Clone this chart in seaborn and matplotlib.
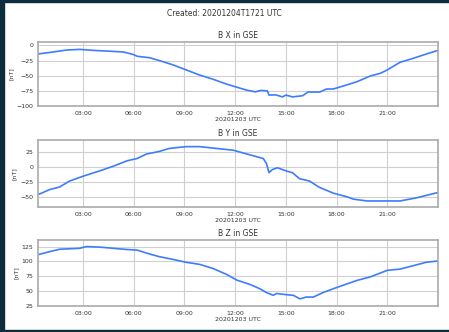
"""
plot.py
-------
Three stacked panels: B X / B Y / B Z in GSE for 20201203 (UTC).
Run: python plot.py
"""

import numpy as np
import pandas as pd
import matplotlib
matplotlib.use("Agg")
import matplotlib.pyplot as plt
import matplotlib.dates as mdates
from matplotlib.patches import Rectangle
import seaborn as sns

# -------------------------------------------------------------------
# Data (hours since 2020-12-03 00:00 UTC, values in nT)
# -------------------------------------------------------------------
bx_hours = [0.3, 1.03, 1.62, 2.0, 2.8, 3.6, 4.4, 5.4, 5.96, 6.2, 6.95, 7.5, 8.3, 9.1,
            9.9, 10.7, 11.5, 12.1, 12.7, 13.2, 13.5, 13.9, 14.0, 14.4, 14.8, 15.0,
            15.4, 16.0, 16.3, 17.0, 17.4, 17.8, 18.4, 19.2, 20.0, 20.6, 21.0, 21.75,
            22.5, 23.3, 24.0]
bx_values = [-14.4, -11.7, -9.4, -7.8, -6.7, -8.3, -9.4, -11, -15, -18, -20.5, -25, -32,
             -40.5, -49, -56, -64, -69, -74, -76.7, -74.4, -75, -82, -81.7, -85, -82,
             -85, -83, -77, -77, -72, -72, -67, -60, -50.5, -46, -40.5, -28, -21.7,
             -14.4, -8.3]

by_hours = [0.3, 1.03, 1.6, 2.2, 3.0, 4.0, 4.8, 5.6, 6.2, 6.75, 7.5, 8.1, 9.1, 9.9, 10.9,
            11.9, 12.7, 13.66, 13.85, 14.0, 14.2, 14.5, 15.0, 15.4, 15.8, 16.4, 16.95,
            17.8, 18.6, 19.0, 19.8, 21.0, 21.75, 22.7, 24.0]
by_values = [-46, -37, -33, -23, -15, -6, 1.7, 10.5, 14.4, 21.7, 26, 31, 34, 34, 31, 28,
             21.7, 14.4, 6, -9, -4, -1, -6, -9.4, -19, -23, -33, -43, -49, -53, -56, -56,
             -56, -51, -42]

bz_hours = [0.3, 1.03, 1.62, 2.8, 3.2, 4.0, 4.8, 5.6, 6.2, 6.75, 7.5, 8.3, 9.1, 9.9, 10.7,
            11.5, 12.1, 12.9, 13.46, 13.85, 14.25, 14.45, 15.05, 15.44, 15.83, 16.2,
            16.62, 17.2, 17.8, 18.4, 19.2, 20.0, 21.0, 21.75, 22.7, 23.3, 24.0]
bz_values = [111, 116.5, 120.5, 122, 125, 124, 122, 120, 119, 114, 108, 103.5, 98.5, 95,
             88, 78, 68.5, 61, 54, 47.6, 43, 46, 44, 43, 37, 40, 40, 47.6, 54, 60, 68, 74,
             85, 87, 94, 98.5, 100.7]

panel_titles = ["B X in GSE", "B Y in GSE", "B Z in GSE"]
panel_ylims  = [(-100, 5.5), (-66, 45), (25, 136)]
panel_yticks = [[-100, -75, -50, -25, 0], [-50, -25, 0, 25], [25, 50, 75, 100, 125]]

DAY = pd.Timestamp("2020-12-03")
LINE_COLOR = "#3d7cff"
TEXT_COLOR = "#333333"


def to_frame(hours, values):
    times = DAY + pd.to_timedelta(np.asarray(hours), unit="h")
    return pd.DataFrame({"time": times, "value": values})


# -------------------------------------------------------------------
# Figure
# -------------------------------------------------------------------
sns.set_style("whitegrid", {"grid.color": "#d0d0d0", "axes.edgecolor": "#aaaaaa"})
plt.rcParams["font.family"] = ["DejaVu Sans"]

fig = plt.figure(figsize=(4.49, 3.32), dpi=100, facecolor="white")

# dark screenshot border
border = "#0d2c3e"
fig.patches.append(Rectangle((0, 0), 4 / 449, 1, transform=fig.transFigure, color=border, zorder=0))
fig.patches.append(Rectangle((0, 1 - 2 / 332), 1, 2 / 332, transform=fig.transFigure, color=border, zorder=0))
fig.patches.append(Rectangle((0, 0), 1, 2 / 332, transform=fig.transFigure, color=border, zorder=0))

fig.text(0.5, 1 - 14 / 332, "Created: 20201204T1721 UTC", ha="center", va="center",
         fontsize=5.5, color=TEXT_COLOR)

positions = [
    [38 / 449, 1 - 106 / 332, 400 / 449, 64 / 332],
    [38 / 449, 1 - 207 / 332, 400 / 449, 67 / 332],
    [38 / 449, 1 - 306 / 332, 400 / 449, 66 / 332],
]
frames = [to_frame(bx_hours, bx_values), to_frame(by_hours, by_values), to_frame(bz_hours, bz_values)]

for pos, df, title, ylim, yticks in zip(positions, frames, panel_titles, panel_ylims, panel_yticks):
    ax = fig.add_axes(pos)
    sns.lineplot(data=df, x="time", y="value", ax=ax, color=LINE_COLOR, linewidth=1.2)
    ax.set_xlim(DAY + pd.Timedelta(minutes=20), DAY + pd.Timedelta(hours=24))
    ax.set_ylim(*ylim)
    ax.set_yticks(yticks)
    ax.xaxis.set_major_locator(mdates.HourLocator(byhour=range(3, 24, 3)))
    ax.xaxis.set_major_formatter(mdates.DateFormatter("%H:%M"))
    ax.set_title(title, fontsize=5.5, color=TEXT_COLOR, pad=3)
    ax.set_xlabel("20201203 UTC", fontsize=4.5, color=TEXT_COLOR, labelpad=1)
    ax.set_ylabel("[nT]", fontsize=4.5, color=TEXT_COLOR, labelpad=2)
    ax.tick_params(labelsize=4.5, colors=TEXT_COLOR, length=2, pad=1.5)
    ax.grid(True, color="#d0d0d0", linewidth=0.8)
    for spine in ax.spines.values():
        spine.set_color("#aaaaaa")
        spine.set_linewidth(1.2)

fig.savefig("out.png", dpi=100, facecolor="white")
plt.close(fig)
